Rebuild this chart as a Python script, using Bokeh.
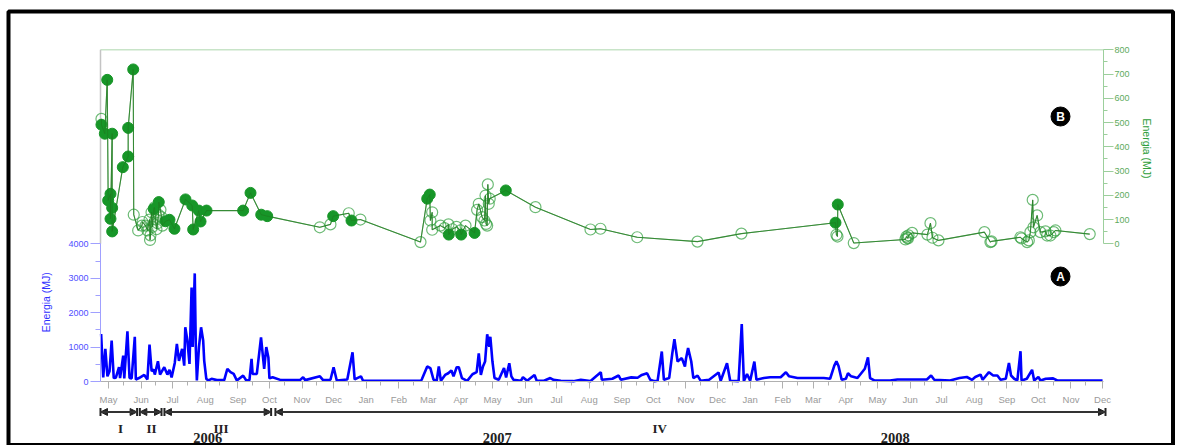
import math
import pandas as pd
from bokeh.plotting import figure
from bokeh.models import (Range1d, LinearAxis, FixedTicker, DatetimeTickFormatter,
                          BoxAnnotation, Label, Arrow, NormalHead, TeeHead, ColumnDataSource)
from bokeh.core.properties import value
from bokeh.embed import file_html
from bokeh.resources import INLINE

# ---------------- data ----------------
BASE = pd.Timestamp("2006-05-01")   # day offsets below are counted from this date

# A: daily energy (MJ), blue series
blue_day = [-7, -5, -3, -1, 1, 3, 5, 7, 10, 11, 14, 15, 18, 20, 22, 25, 26, 29, 34, 37, 39, 41, 43, 44,
            47, 49, 53, 56, 58, 60, 63, 65, 67, 70, 72, 73, 75, 77, 79, 80, 82, 83, 84, 86, 88, 90, 91,
            93, 95, 98, 103, 110, 113, 116, 119, 122, 128, 131, 134, 136, 137, 141, 145, 148, 150, 152,
            153, 156, 164, 182, 185, 187, 201, 204, 211, 214, 217, 227, 232, 234, 240, 242, 258, 297,
            298, 303, 306, 309, 312, 314, 316, 320, 323, 326, 328, 331, 333, 336, 341, 346, 350, 352,
            354, 356, 358, 360, 362, 363, 365, 367, 371, 376, 378, 381, 383, 385, 392, 394, 398, 405,
            407, 414, 420, 423, 430, 442, 449, 458, 468, 469, 479, 485, 487, 497, 503, 507, 512, 515,
            519, 522, 526, 528, 533, 536, 538, 541, 543, 545, 548, 549, 551, 554, 556, 560, 563, 571,
            580, 582, 588, 591, 599, 602, 604, 607, 610, 614, 616, 623, 629, 639, 644, 647, 655, 667,
            680, 686, 690, 692, 694, 697, 701, 703, 706, 712, 719, 722, 724, 728, 743, 750, 778, 782,
            785, 800, 809, 816, 821, 824, 829, 831, 837, 841, 845, 848, 853, 856, 858, 861, 864, 867,
            868, 873, 878, 880, 884, 886, 891, 898, 902, 945]
blue_mj = [1380, 120, 950, 150, 300, 1190, 100, 110, 415, 100, 750, 90, 1460, 100, 90, 1300, 60, 100,
           190, 60, 1070, 300, 350, 200, 590, 200, 415, 200, 340, 120, 540, 1090, 600, 950, 460, 1575,
           1190, 510, 2730, 1000, 3140, 1000, 30, 1000, 1575, 1190, 600, 77, 30, 77, 40, 40, 370, 270,
           220, 30, 170, 30, 40, 660, 220, 220, 1280, 370, 1000, 700, 90, 125, 40, 40, 125, 40, 150, 40,
           50, 415, 30, 60, 850, 60, 150, 20, 20, 20, 70, 435, 390, 50, 20, 435, 20, 190, 240, 320, 150,
           415, 415, 100, 20, 210, 270, 820, 190, 435, 580, 1370, 1010, 1300, 580, 100, 50, 390, 120,
           530, 150, 50, 20, 125, 20, 190, 30, 20, 100, 50, 20, 10, 50, 10, 270, 50, 80, 175, 50, 120,
           110, 190, 240, 50, 10, 20, 870, 50, 100, 820, 1230, 580, 630, 680, 435, 660, 970, 580, 100,
           170, 20, 50, 260, 20, 530, 20, 10, 1670, 10, 220, 20, 580, 50, 100, 125, 125, 270, 150, 100,
           100, 100, 80, 460, 590, 450, 50, 80, 240, 150, 100, 370, 700, 100, 30, 30, 60, 60, 175, 50,
           30, 100, 130, 50, 130, 200, 50, 270, 175, 175, 50, 80, 540, 175, 80, 30, 880, 30, 80, 340,
           30, 130, 30, 80, 90, 30, 30]

# B: sampled energy (MJ), green series; filled = 1, open = 0
green_day = [-6.7, -6.7, -3.5, -1.2, -0.3, 1.9, 1.9, 3.5, 3.5, 3.5, 13.6, 18.7, 18.7, 23.5, 24.0, 28.2,
             31.8, 32.3, 35.2, 37.1, 39.0, 39.5, 39.9, 40.9, 41.8, 43.0, 43.7, 44.7, 45.6, 46.6, 47.5,
             47.8, 49.4, 50.4, 51.3, 54.2, 58.0, 62.7, 73.2, 79.6, 80.5, 85.8, 87.5, 93.2, 128.0, 135.0,
             145.2, 150.9, 200.9, 211.0, 213.6, 228.4, 231.0, 239.5, 296.6, 303.0, 305.4, 306.0, 307.7,
             307.7, 315.6, 319.4, 323.2, 323.5, 327.0, 330.8, 334.6, 335.3, 339.4, 348.0, 350.4, 352.0,
             355.2, 357.4, 358.4, 358.9, 360.0, 360.6, 361.5, 362.4, 377.7, 405.9, 458.2, 467.7, 502.6,
             559.9, 601.7, 691.1, 692.0, 693.0, 693.3, 708.5, 757.6, 758.6, 759.5, 760.0, 760.5, 764.0,
             778.5, 781.4, 783.3, 789.0, 832.7, 838.4, 839.4, 866.9, 867.9, 873.3, 874.9, 876.4, 878.6,
             879.3, 882.8, 885.9, 890.7, 892.3, 895.4, 898.6, 900.2, 932.8]
green_mj = [515, 491, 454, 676, 179, 206, 103, 454, 148, 51, 316, 360, 478, 719, 120, 55,
            75, 90, 75, 55, 100, 16, 35, 130, 70, 144, 150, 100, 60, 85, 120,
            172, 140, 110, 75, 93, 99, 62, 183, 158, 59, 137, 92, 137, 137, 210,
            120, 114, 68, 80, 114, 126, 96, 100, 7, 186, 203, 96, 130,
            58, 75, 65, 80, 38, 60, 70, 55, 38, 75, 45, 140, 165,
            110, 96, 199, 82, 75, 245, 165, 186, 220, 151, 59, 62, 27,
            9, 42, 87, 37, 30, 162, 3, 18, 30, 25, 22, 35, 45,
            38, 85, 25, 14, 48, 7, 10, 27, 22, 7, 14, 48, 181,
            68, 117, 48, 51, 34, 34, 48, 55, 40]
green_filled = [0, 1, 1, 1, 1, 1, 1, 1, 1, 1, 1, 1, 1, 1, 0, 0,
                0, 0, 0, 0, 0, 0, 0, 0, 0, 1, 0, 0, 0, 0, 0,
                1, 0, 0, 0, 1, 1, 1, 1, 1, 1, 1, 1, 1, 1, 1,
                1, 1, 0, 0, 1, 0, 1, 0, 0, 1, 1, 0, 0,
                0, 0, 0, 0, 1, 0, 0, 0, 1, 0, 1, 0, 0,
                0, 0, 0, 0, 0, 0, 0, 0, 1, 0, 0, 0, 0,
                0, 0, 1, 0, 0, 1, 0, 0, 0, 0, 0, 0, 0,
                0, 0, 0, 0, 0, 0, 0, 0, 0, 0, 0, 0, 0,
                0, 0, 0, 0, 0, 0, 0, 0, 0]

# sampling periods (start day, end day), labels and their positions (days)
period_start = [-7.6, 29.8, 53.2, 158.7]
period_end = [27.2, 50.4, 154.6, 947.8]
period_label = ["I", "II", "III", "IV"]
period_label_day = [11.4, 40.9, 107.0, 524.0]
year_label = ["2006", "2007", "2008"]
year_label_day = [94.4, 369.5, 748.0]

blue_ticks = [0, 1000, 2000, 3000, 4000]
blue_minor = [500, 1500, 2500, 3500]
green_ticks = [0, 100, 200, 300, 400, 500, 600, 700, 800]
green_minor = [50, 150, 250, 350, 450, 550, 650, 750]

# ---------------- layout (frame = whole canvas) ----------------
W, H = 1178, 445
PLOT_L, PLOT_R = 100.0, 1103.0          # pixel columns of first / last day shown
X_START, X_END = -7.6, 945.9            # days at PLOT_L / PLOT_R
PXD = (PLOT_R - PLOT_L) / (X_END - X_START)
BLUE0_Y, BLUE4000_Y = 381.0, 243.3
GREEN0_Y, GREEN800_Y = 243.3, 49.3
BPX = (BLUE0_Y - BLUE4000_Y) / 4000.0
GPX = (GREEN0_Y - GREEN800_Y) / 800.0


def day_at(px):            # day offset at a canvas column
    return X_START + (px - PLOT_L) / PXD


def blue_at(py):           # blue-scale value at a canvas row
    return (BLUE0_Y - py) / BPX


def green_at(py):
    return (GREEN0_Y - py) / GPX


BASE_MS = BASE.value / 1e6
DAY_MS = 86400000.0


def ms(d):
    return BASE_MS + d * DAY_MS


month_ms = [t.value / 1e6 for t in pd.date_range("2006-05-01", "2008-12-01", freq="MS")]
mid_ms = [(t + pd.Timedelta(days=14)).value / 1e6 for t in pd.date_range("2006-05-01", "2008-11-01", freq="MS")]

p = figure(width=W, height=H, x_axis_type="datetime", output_backend="svg", toolbar_location=None,
           x_range=Range1d(ms(day_at(0)), ms(day_at(W))), y_range=Range1d(blue_at(H), blue_at(0)),
           min_border_left=0, min_border_right=0, min_border_top=0, min_border_bottom=0)
p.outline_line_color = None
p.xgrid.visible = False
p.ygrid.visible = False
p.background_fill_color = "white"
p.border_fill_color = "white"
p.extra_y_ranges = {"green": Range1d(green_at(H), green_at(0))}

FONT = "Liberation Sans"

# outer black frame (drawn first, texts go over it)
p.add_layout(BoxAnnotation(left=ms(day_at(8)), right=ms(day_at(1172.5)), top=blue_at(11),
                           bottom=blue_at(444.5), fill_alpha=0, line_color="black", line_alpha=1.0,
                           line_width=4, level="underlay"))

# blue left axis
ya = p.yaxis[0]
ya.fixed_location = ms(X_START)
ya.ticker = FixedTicker(ticks=blue_ticks, minor_ticks=blue_minor)
ya.bounds = (0, 4000)
ya.axis_line_color = "#a0a0ff"
ya.major_tick_line_color = "#a0a0ff"
ya.minor_tick_line_color = "#a0a0ff"
ya.major_tick_out = 10
ya.major_tick_in = 0
ya.minor_tick_out = 5
ya.minor_tick_in = 0
ya.major_label_text_color = "#5050ff"
ya.major_label_text_font = FONT
ya.major_label_text_font_size = "9px"
ya.major_label_standoff = 2

# green right axis
ga = LinearAxis(y_range_name="green", ticker=FixedTicker(ticks=green_ticks, minor_ticks=green_minor))
ga.fixed_location = ms(X_END)
ga.bounds = (0, 800)
ga.axis_line_color = "#9ccf9c"
ga.major_tick_line_color = "#9ccf9c"
ga.minor_tick_line_color = "#9ccf9c"
ga.major_tick_out = 10
ga.major_tick_in = 0
ga.minor_tick_out = 4
ga.minor_tick_in = 0
ga.major_label_text_color = "#60aa60"
ga.major_label_text_font = FONT
ga.major_label_text_font_size = "9px"
ga.major_label_standoff = 1
p.add_layout(ga, "right")

# x axis
xa = p.xaxis[0]
xa.fixed_location = 0
xa.bounds = (ms(X_START), ms(X_END))
xa.ticker = FixedTicker(ticks=month_ms, minor_ticks=mid_ms)
fmt = "%b"
xa.formatter = DatetimeTickFormatter(days=fmt, months=fmt, years=fmt, hours=fmt, minutes=fmt,
                                     seconds=fmt, milliseconds=fmt, minsec=fmt, hourmin=fmt)
xa.axis_line_color = "#b0b0b0"
xa.major_tick_line_color = "#b0b0b0"
xa.minor_tick_line_color = "#b0b0b0"
xa.major_tick_out = 7
xa.major_tick_in = 0
xa.minor_tick_out = 4
xa.minor_tick_in = 0
xa.major_label_text_color = "#9a9a9a"
xa.major_label_text_font = FONT
xa.major_label_text_font_size = "9.5px"
xa.major_label_standoff = 5

# axis titles
p.add_layout(Label(x=ms(day_at(45.7)), y=blue_at(301.7), text="Energia (MJ)", angle=math.pi / 2,
                   text_font=FONT, text_font_size="10.5px", text_color="#3030ff",
                   text_align="center", text_baseline="middle"))
p.add_layout(Label(x=ms(day_at(1146)), y=green_at(148), y_range_name="green", text="Energia (MJ)",
                   angle=-math.pi / 2, text_font=FONT, text_font_size="10.5px", text_color="#2e9e3a",
                   text_align="center", text_baseline="middle"))

# light frame of the upper (green) panel
p.segment([ms(X_START)], [800], [ms(X_END)], [800], y_range_name="green", line_color="#c8e4c8",
          line_width=1.5)
p.segment([ms(X_START)], [0], [ms(X_START)], [800], y_range_name="green", line_color="#c4c4c4",
          line_width=1.5)

# blue series
bsrc = ColumnDataSource(dict(t=[ms(d) for d in blue_day], v=blue_mj))
p.line("t", "v", source=bsrc, line_color="#0000ff", line_width=2.6)

# green series
gt = [ms(d) for d in green_day]
p.line(gt, green_mj, y_range_name="green", line_color="#2a8a2a", line_alpha=0.8, line_width=1.1)
f_src = ColumnDataSource(dict(t=[t for t, f in zip(gt, green_filled) if f],
                              v=[v for v, f in zip(green_mj, green_filled) if f]))
o_src = ColumnDataSource(dict(t=[t for t, f in zip(gt, green_filled) if not f],
                              v=[v for v, f in zip(green_mj, green_filled) if not f]))
p.scatter("t", "v", source=o_src, y_range_name="green", size=11, fill_color=None,
          line_color="#2f9e3c", line_alpha=0.7, line_width=1.2)
p.scatter("t", "v", source=f_src, y_range_name="green", size=11, fill_color="#179628",
          line_color="#179628")
p.line(gt, green_mj, y_range_name="green", line_color="#1f7a1f", line_alpha=0.6, line_width=1)

# badges
badge_day = day_at(1060)
badge_B_mj = green_at(116)
badge_A_mj = blue_at(276)
p.scatter([ms(badge_day)], [badge_B_mj], y_range_name="green", size=19, color="black")
p.text([ms(badge_day)], [badge_B_mj], text=["B"], y_range_name="green", text_color="white",
       text_font=value(FONT), text_font_style="bold", text_font_size="12px",
       text_align="center", text_baseline="middle")
p.scatter([ms(badge_day)], [badge_A_mj], size=19, color="black")
p.text([ms(badge_day)], [badge_A_mj], text=["A"], text_color="white",
       text_font=value(FONT), text_font_style="bold", text_font_size="12px",
       text_align="center", text_baseline="middle")

# period arrows below the time axis
ARROW_Y = blue_at(411.5)
ROMAN_Y = blue_at(427.5)
YEAR_Y = blue_at(437.5)
for s, e in zip(period_start, period_end):
    p.add_layout(Arrow(x_start=ms(s), y_start=ARROW_Y, x_end=ms(e), y_end=ARROW_Y,
                       start=NormalHead(size=7, fill_color="#222222", line_color="#222222"),
                       end=NormalHead(size=7, fill_color="#222222", line_color="#222222"),
                       line_color="#333333", line_width=2))
    p.add_layout(Arrow(x_start=ms(s), y_start=ARROW_Y, x_end=ms(e), y_end=ARROW_Y,
                       start=TeeHead(size=8, line_color="#222222", line_width=2),
                       end=TeeHead(size=8, line_color="#222222", line_width=2),
                       line_color="#333333", line_width=2))
for lab, d in zip(period_label, period_label_day):
    p.add_layout(Label(x=ms(d), y=ROMAN_Y, text=lab, text_font="Liberation Serif",
                       text_font_style="bold", text_font_size="13px", text_color="#222222",
                       text_align="center", text_baseline="alphabetic"))
for lab, d in zip(year_label, year_label_day):
    p.add_layout(Label(x=ms(d), y=YEAR_Y, text=lab, text_font="Liberation Serif",
                       text_font_style="bold", text_font_size="14.5px", text_color="#222222",
                       text_align="center", text_baseline="alphabetic"))

open("out.html", "w").write(file_html(p, INLINE))
